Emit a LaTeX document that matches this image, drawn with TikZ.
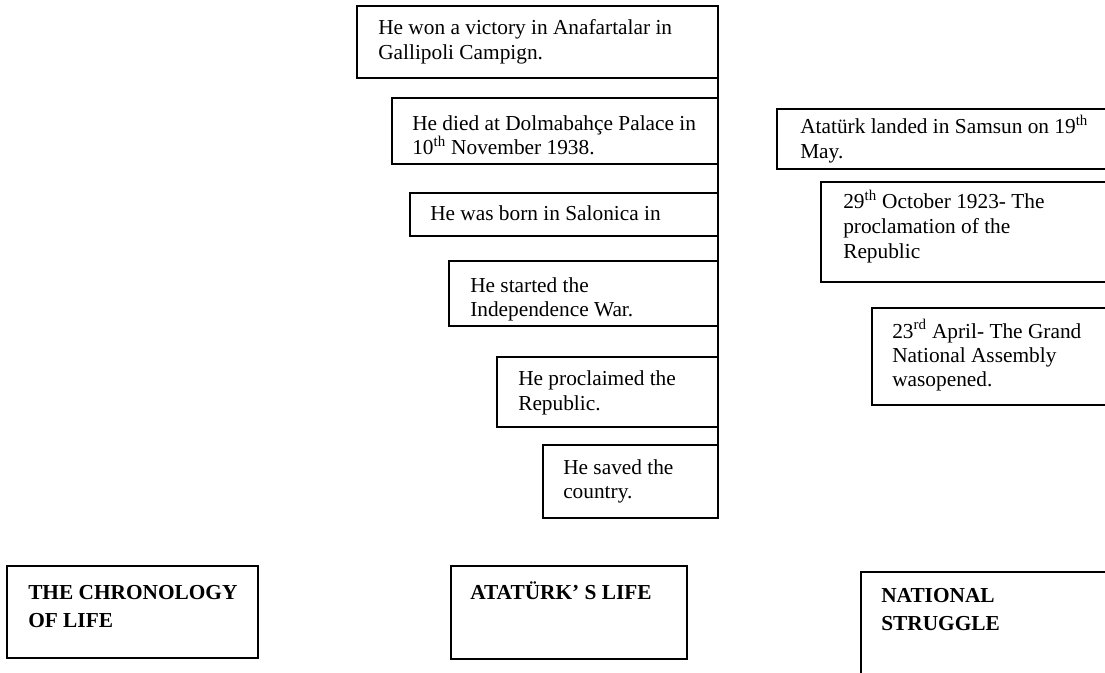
\documentclass[tikz,border=0pt]{standalone}
\usepackage{fontspec}
\setmainfont{Liberation Serif}
\tikzset{
  x=0.75pt, y=-0.75pt,
  box/.style={draw=black, line width=1.3pt, rectangle, inner sep=0pt, outer sep=0pt, anchor=north west},
  txt/.style={anchor=base west, inner sep=0pt, font=\fontsize{16pt}{18pt}\selectfont},
  btxt/.style={anchor=base west, inner sep=0pt, font=\fontsize{16pt}{18pt}\selectfont\bfseries},
  spine/.style={line width=1.5pt}
}
\newcommand{\mybox}[5]{\node[box, minimum width={(#4-#2)*0.75pt}, minimum height={(#5-#3)*0.75pt}] (#1) at (#2,#3) {};}
\begin{document}
\begin{tikzpicture}
\useasboundingbox (0,0) rectangle (1105,673);
\clip (0,0) rectangle (1105,673);
\fill[white] (0,0) rectangle (1105,673);

% left column of events
\mybox{b1}{357}{6}{718}{78}
\node[txt] (t1a) at (378,35) {He won a victory in Anafartalar in};
\node[txt] (t1b) at (378,60) {Gallipoli Campign.};

\mybox{b2}{392}{98}{718}{164}
\node[txt] (t2a) at (412,131) {He died at Dolmabahçe Palace in};
\node[txt] (t2b) at (412,155) {10\textsuperscript{th} November 1938.};

\mybox{b3}{410}{193}{718}{236}
\node[txt] (t3a) at (430,221) {He was born in Salonica in};

\mybox{b4}{449}{261}{718}{326}
\node[txt] (t4a) at (470,292) {He started the};
\node[txt] (t4b) at (470,316) {Independence War.};

\mybox{b5}{497}{357}{718}{427}
\node[txt] (t5a) at (518,385) {He proclaimed the};
\node[txt] (t5b) at (518,410) {Republic.};

\mybox{b6}{543}{445}{718}{518}
\node[txt] (t6a) at (563,474) {He saved the};
\node[txt] (t6b) at (563,498) {country.};

\draw[spine] (b1.north east) -- (b6.south east);

% right column
\mybox{r1}{777}{109}{1115}{169}
\node[txt] (u1a) at (800,134) {Atatürk landed in Samsun on 19\textsuperscript{th}};
\node[txt] (u1b) at (800,159) {May.};

\mybox{r2}{821}{182}{1115}{282}
\begin{scope}
\clip (821,182) rectangle (1115,263);
\node[txt] (u2a) at (843,209) {29\textsuperscript{th} October 1923- The};
\node[txt] (u2b) at (843,234) {proclamation of the};
\node[txt] (u2c) at (843,259) {Republic};
\end{scope}

\mybox{r3}{872}{308}{1115}{405}
\node[txt] (u3a) at (892,338) {23\textsuperscript{rd} April- The Grand};
\node[txt] (u3b) at (892,362) {National Assembly};
\node[txt] (u3c) at (892,386) {wasopened.};

% bottom headings
\mybox{h1}{7}{566}{258}{658}
\node[btxt] (k1a) at (28,599) {THE CHRONOLOGY};
\node[btxt] (k1b) at (28,627) {OF LIFE};

\mybox{h2}{451}{566}{687}{659}
\node[btxt] (k2a) at (470,599) {ATATÜRK’ S LIFE};

\mybox{h3}{861}{572}{1115}{700}
\node[btxt] (k3a) at (881,602) {NATIONAL};
\node[btxt] (k3b) at (881,630) {STRUGGLE};
\end{tikzpicture}
\end{document}
